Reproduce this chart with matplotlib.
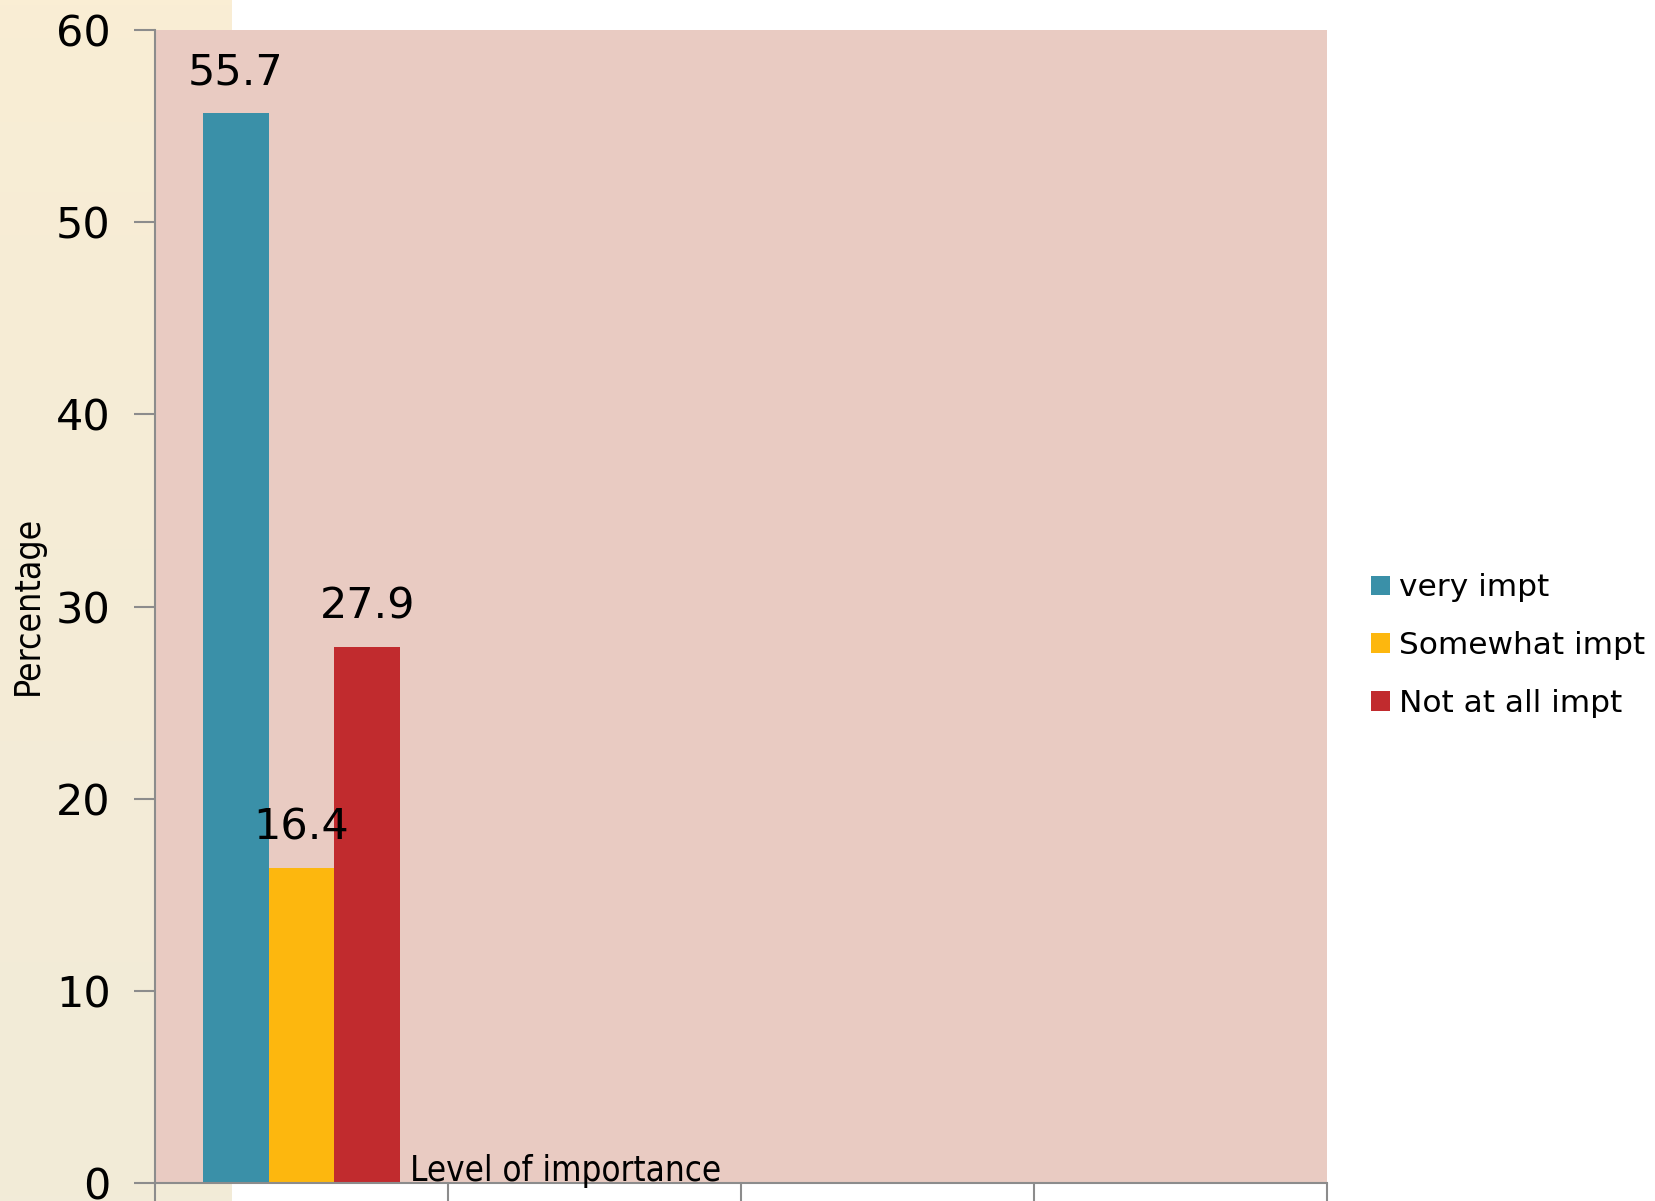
import matplotlib
matplotlib.use("Agg")
import matplotlib.pyplot as plt
import numpy as np

categories = ["", "", "", ""]
series_names = ["very impt", "Somewhat impt", "Not at all impt"]
series_values = [[55.7], [16.4], [27.9]]
series_colors = ["#3A90A8", "#FDB70E", "#C12B2E"]
y_ticks = [0, 10, 20, 30, 40, 50, 60]

W, H = 1656, 1201
fig = plt.figure(figsize=(W / 100, H / 100), dpi=100)
fig.patch.set_facecolor("white")

# beige gradient panel on the left
bg = fig.add_axes([0, 0, 232 / W, 1], zorder=0)
top = np.array([250, 238, 212]) / 255
bot = np.array([242, 235, 216]) / 255
t = np.linspace(0, 1, 256) ** 0.6
grad = (top[None, :] * (1 - t[:, None]) + bot[None, :] * t[:, None])[:, None, :]
bg.imshow(grad, aspect="auto", extent=[0, 1, 0, 1], origin="upper")
bg.set_axis_off()

ax = fig.add_axes([155 / W, 1 - 1183 / H, (1327 - 155) / W, (1183 - 30) / H], zorder=1)
ax.set_facecolor("#E9CBC2")

x = np.arange(len(categories))
bw = 0.224
offsets = [-bw, 0, bw]
for name, vals, col, off in zip(series_names, series_values, series_colors, offsets):
    b = ax.bar(x[: len(vals)] + off, vals, width=bw, color=col, label=name, zorder=2)
    for rect, v in zip(b, vals):
        ax.text(rect.get_x() + rect.get_width() / 2, v + 1.0, f"{v}",
                ha="center", va="bottom", fontsize=31, family="DejaVu Sans", zorder=3)

ax.set_xlim(-0.5, len(categories) - 0.5)
ax.set_ylim(0, 60)
ax.set_yticks(y_ticks)
ax.set_yticklabels([str(v) for v in y_ticks], fontsize=31, family="DejaVu Sans")
ax.set_xticks(np.arange(len(categories) + 1) - 0.5)
ax.set_xticklabels([""] * (len(categories) + 1))
ax.tick_params(axis="both", direction="out", length=15, width=1.5, color="#8C8C8C", pad=17)
for s in ["top", "right"]:
    ax.spines[s].set_visible(False)
for s in ["left", "bottom"]:
    ax.spines[s].set_color("#8C8C8C")
    ax.spines[s].set_linewidth(1.5)

ax.text(0.372, 0.1, "Level of importance", ha="left", va="baseline", fontsize=25,
        family="DejaVu Sans", fontstretch="condensed", zorder=3)

fig.text(28 / W, 1 - 605 / H, "Percentage", rotation=90, ha="center", va="center",
         fontsize=25.5, family="DejaVu Sans", fontstretch="condensed")

leg = ax.legend(loc="center left", bbox_to_anchor=(1 + (1371 - 1327) / 1172, 0.466), frameon=False,
                prop={"family": "DejaVu Sans", "size": 22.5}, borderpad=0, borderaxespad=0,
                handlelength=0.6, handleheight=0.6, handletextpad=0.3, labelspacing=0.92)

fig.savefig("out.png", dpi=100)
